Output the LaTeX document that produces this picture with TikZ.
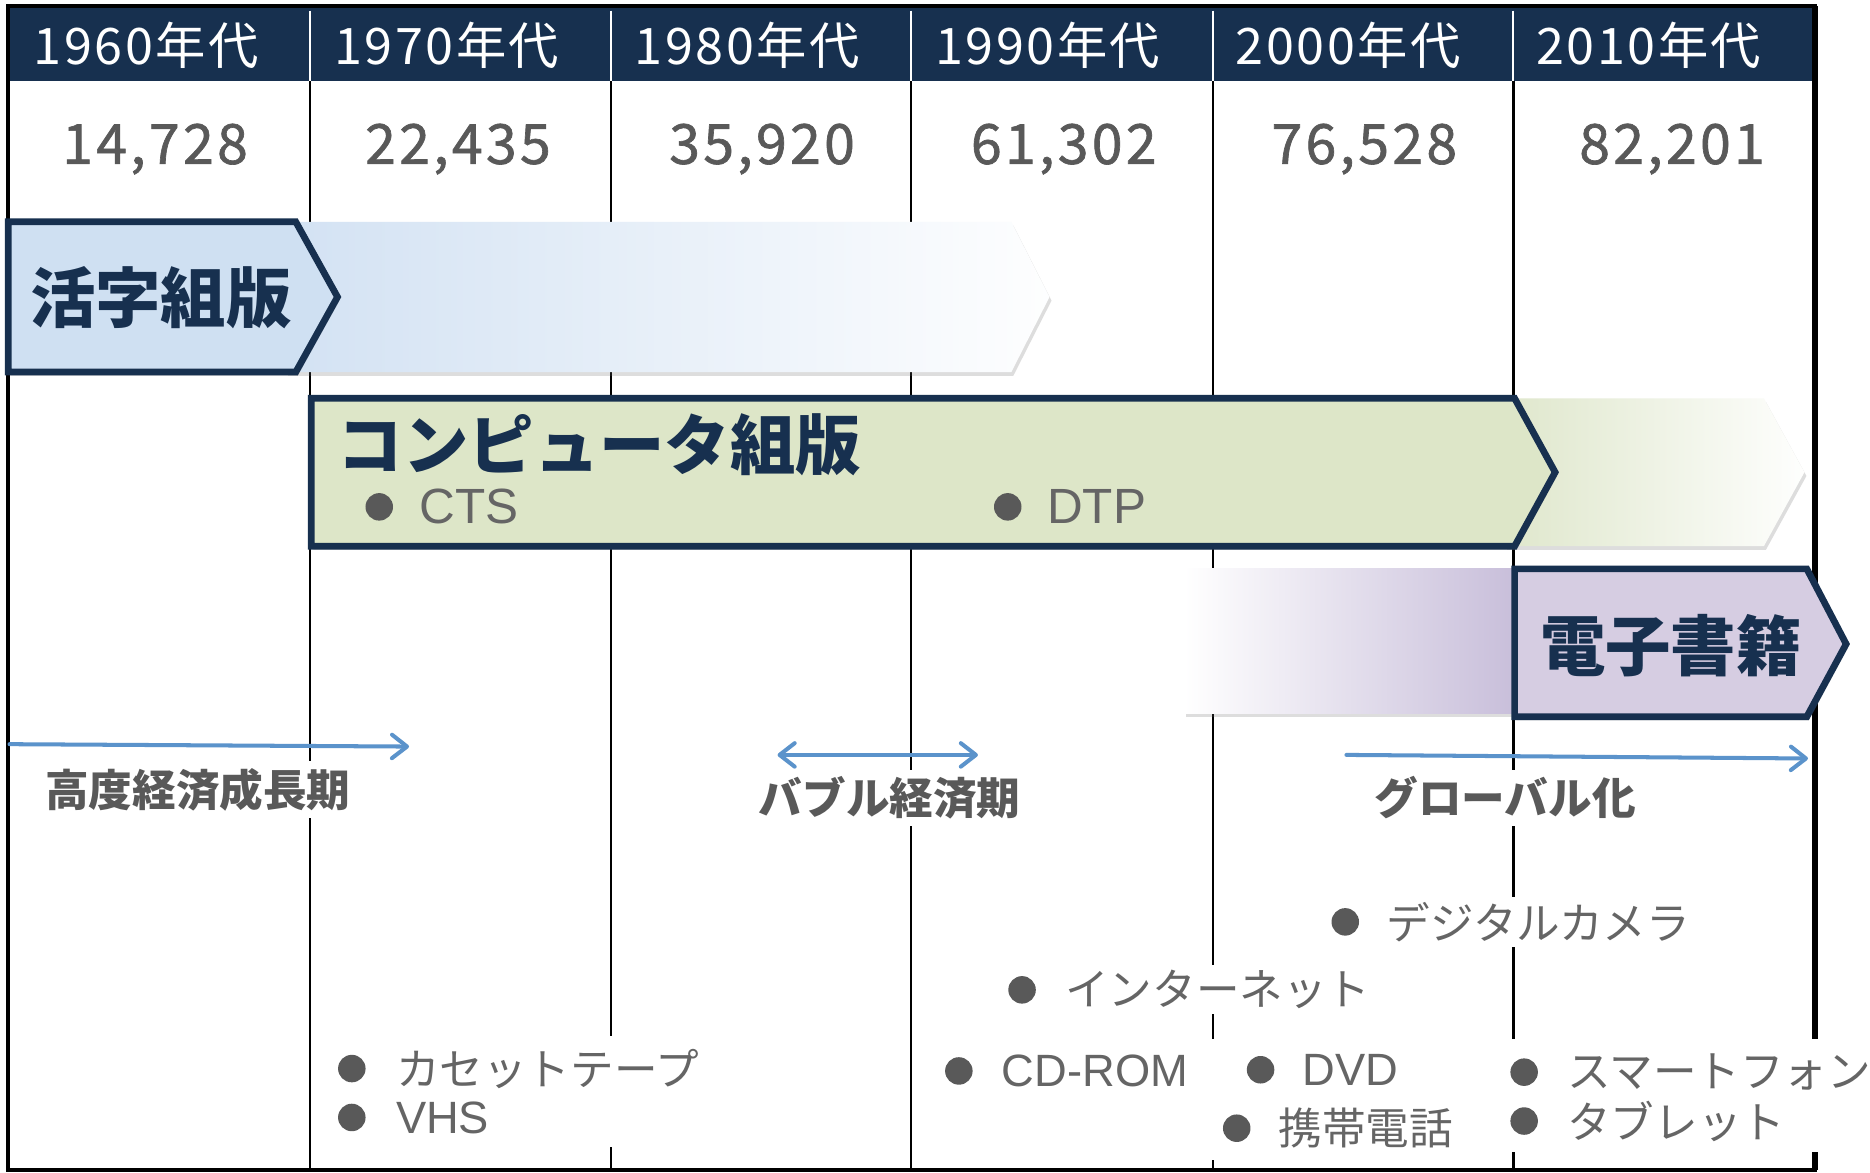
\documentclass[tikz,border=0pt]{standalone}
\usepackage{fontspec}
\setmainfont{Noto Sans CJK JP}
\newfontfamily\jp{Noto Sans CJK JP}
\newfontfamily\jphdr{Noto Sans CJK JP}[LetterSpace=5]
\newfontfamily\jpfb{Noto Sans CJK JP}[FakeBold=1.2,LetterSpace=6]
\newfontfamily\lat{Liberation Sans}
\usetikzlibrary{arrows.meta,shadows}
\definecolor{navy}{HTML}{17304F}
\definecolor{txtgray}{HTML}{595959}
\definecolor{itemgray}{HTML}{656565}
\definecolor{arrblue}{HTML}{5B93CB}
\definecolor{kblue}{HTML}{CFE0F2}
\definecolor{kbluefade}{HTML}{D3E2F3}
\definecolor{cgreen}{HTML}{DDE6C8}
\definecolor{cgreenfade}{HTML}{DFE7CC}
\definecolor{dlilac}{HTML}{D6CDE2}
\definecolor{dlilacfade}{HTML}{C8BEDA}
\begin{document}
\begin{tikzpicture}[x=0.025cm,y=-0.025cm,
  hdr/.style={anchor=west, text=white, font=\jphdr\fontsize{30}{36}\selectfont, inner sep=0pt},
  num/.style={text=txtgray, font=\jpfb\fontsize{33}{40}\selectfont, inner sep=0pt},
  big/.style={text=navy, font=\jp\bfseries\fontsize{39}{47}\selectfont, inner sep=0pt},
  lab/.style={text=txtgray, font=\jp\bfseries\fontsize{26}{31}\selectfont, fill=white, inner xsep=3pt, inner ysep=4pt},
  item/.style={anchor=west, text=itemgray, font=\jp\fontsize{26}{31}\selectfont, inner ysep=3pt, inner xsep=2pt},
  itemw/.style={item, fill=white},
  litem/.style={item, font=\lat\fontsize{27}{32}\selectfont},
  bitem/.style={item, font=\lat\fontsize{29.5}{35}\selectfont},
  bul/.style={fill=txtgray},
  tipb/.style={},
  arr/.style={draw=arrblue, line width=2.4pt, line cap=round, -{Straight Barb[length=9pt,width=14pt,round]}},
  darr/.style={draw=arrblue, line width=2.4pt, line cap=round, {Straight Barb[length=9pt,width=14pt,round]}-{Straight Barb[length=9pt,width=14pt,round]}},
  shd/.style={drop shadow={shadow xshift=1.2pt, shadow yshift=-2.2pt, opacity=0.22, fill=black!60}},
  edge/.style={draw=navy, line width=4pt, line join=miter},
  colline/.style={draw=black, line width=1.3pt},
]
\useasboundingbox (0,0) rectangle (1568,983);
\fill[white] (0,0) rectangle (1568,983);

% column lines
\foreach \x in {260,512,764,1017,1269}
  \draw[colline] (\x,68) -- (\x,981);

% header band
\fill[navy] (7,5) rectangle (1522,68);
\foreach \x in {260,512,764,1017,1269}
  \draw[white, line width=1.2pt] (\x,9) -- (\x,68);

% outer border
\draw[black, line width=2.4pt] (7,5) rectangle (1522,981);
\draw[black, line width=3.4pt] (1522,5) -- (1522,981);

% header texts
\node[hdr] (h1) at (28,38) {1960年代};
\node[hdr] (h2) at (280,38) {1970年代};
\node[hdr] (h3) at (532,38) {1980年代};
\node[hdr] (h4) at (784,38) {1990年代};
\node[hdr] (h5) at (1036,38) {2000年代};
\node[hdr] (h6) at (1288,38) {2010年代};

% numbers
\node[num] (n1) at (130,125) {14,728};
\node[num] (n2) at (384,125) {22,435};
\node[num] (n3) at (639,125) {35,920};
\node[num] (n4) at (892,125) {61,302};
\node[num] (n5) at (1144,125) {76,528};
\node[num] (n6) at (1402,125) {82,201};

% 活字組版
\path[shd, left color=kbluefade, right color=white!97!kblue]
  (240,186) -- (848,186) -- (880,249) -- (848,312) -- (240,312) -- cycle;
\path[shd, fill=kblue, edge]
  (7,186) -- (248,186) -- (283,249) -- (248,312) -- (7,312) -- cycle;
\node[big, anchor=west] (katsuji) at (25,250) {活字組版};

% コンピュータ組版
\path[shd, left color=cgreenfade, right color=white!97!cgreen]
  (1262,334) -- (1479,334) -- (1513,396) -- (1479,458) -- (1262,458) -- cycle;
\path[shd, fill=cgreen, edge]
  (261,334) -- (1270,334) -- (1304,396) -- (1270,458) -- (261,458) -- cycle;
\node[big, anchor=west] (comp) at (283,373) {コンピュータ組版};
\fill[bul] (318,425) circle[radius=8.2pt];
\node[bitem] (cts) at (349,425) {CTS};
\fill[bul] (845,425) circle[radius=8.2pt];
\node[bitem] (dtp) at (875,425) {DTP};

% 電子書籍
\path[shd, left color=white, right color=dlilacfade]
  (993,477) rectangle (1272,598);
\path[shd, fill=dlilac, edge]
  (1270,477) -- (1515,477) -- (1548,540) -- (1515,601) -- (1270,601) -- cycle;
\node[big] (denshi) at (1401,541) {電子書籍};

% period arrows
\coordinate (a1s) at (8,624);
\coordinate (a1e) at (343,626);
\draw[arr] (a1s) -- (a1e);
\node[lab] (kodo) at (166,662) {高度経済成長期};

\coordinate (a2s) at (652,633);
\coordinate (a2e) at (820,633);
\draw[darr] (a2s) -- (a2e);
\node[lab] (bubble) at (746,669) {バブル経済期};

\coordinate (a3s) at (1129,633);
\coordinate (a3e) at (1516,636);
\draw[arr] (a3s) -- (a3e);
\node[lab] (global) at (1262,669) {グローバル化};

% gaps behind the item groups
\fill[white] (282,869) rectangle (592,962);
\fill[white] (1006,871) rectangle (1226,973);
\fill[white] (1262,871) rectangle (1567,966);

% items
\node[itemw] (cam) at (1112,773) {\hspace*{34pt}デジタルカメラ};
\fill[bul] (1128,773) circle[radius=8.2pt];
\node[itemw] (net) at (841,830) {\hspace*{35pt}インターネット};
\fill[bul] (857,830) circle[radius=8.2pt];

\fill[bul] (295,896) circle[radius=8.2pt];
\node[item] (cas) at (329,896) {カセットテープ};
\fill[bul] (295,937) circle[radius=8.2pt];
\node[litem] (vhs) at (329,937) {VHS};

\fill[bul] (804,898) circle[radius=8.2pt];
\node[litem] (cd) at (837,898) {CD-ROM};

\fill[bul] (1057,897) circle[radius=8.2pt];
\node[litem] (dvd) at (1089,897) {DVD};
\fill[bul] (1037,946) circle[radius=8.2pt];
\node[item] (phone) at (1069,946) {携帯電話};

\fill[bul] (1278,899) circle[radius=8.2pt];
\node[item] (smart) at (1311,899) {スマートフォン};
\fill[bul] (1278,940) circle[radius=8.2pt];
\node[item] (tab) at (1311,940) {タブレット};
\end{tikzpicture}
\end{document}
